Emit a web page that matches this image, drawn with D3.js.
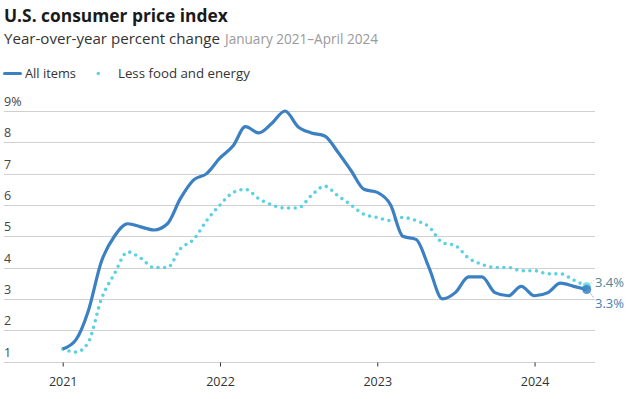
<!DOCTYPE html>
<html><head><meta charset="utf-8">
<script src="https://cdn.jsdelivr.net/npm/d3@7"></script>
<style>
html,body{margin:0;padding:0;background:#fff;}
svg{display:block;font-family:"Open Sans",sans-serif;}
</style></head>
<body>
<svg id="c" width="638" height="399"></svg>
<script>
const months = [
 "2021-01","2021-02","2021-03","2021-04","2021-05","2021-06","2021-07","2021-08","2021-09","2021-10","2021-11","2021-12",
 "2022-01","2022-02","2022-03","2022-04","2022-05","2022-06","2022-07","2022-08","2022-09","2022-10","2022-11","2022-12",
 "2023-01","2023-02","2023-03","2023-04","2023-05","2023-06","2023-07","2023-08","2023-09","2023-10","2023-11","2023-12",
 "2024-01","2024-02","2024-03","2024-04","2024-05"];
const allItems = [
 1.4,1.7,2.6,4.2,5.0,5.4,5.3,5.2,5.4,6.2,6.8,7.0,
 7.5,7.9,8.5,8.3,8.6,9.0,8.5,8.3,8.2,7.7,7.1,6.5,
 6.4,6.0,5.0,4.9,4.0,3.0,3.2,3.7,3.7,3.2,3.1,3.4,
 3.1,3.2,3.5,3.4,3.3];
const core = [
 1.4,1.3,1.6,3.0,3.8,4.5,4.3,4.0,4.0,4.6,4.9,5.5,
 6.0,6.4,6.5,6.2,6.0,5.9,5.9,6.3,6.6,6.3,6.0,5.7,
 5.6,5.5,5.6,5.5,5.3,4.8,4.7,4.3,4.1,4.0,4.0,3.9,
 3.9,3.8,3.8,3.6,3.4];
const yTicks = [1,2,3,4,5,6,7,8,9];
const xTicks = ["2021","2022","2023","2024"];
const seriesNames = ["All items","Less food and energy"];
const title = "U.S. consumer price index";
const subtitle = "Year-over-year percent change";
const dateRange = "January 2021\u2013April 2024";

const blue = "#3b80c2", cyan = "#5bd2e2";
const parse = d3.utcParse("%Y-%m");
const dates = months.map(parse);

const svg = d3.select("#c");
const x = d3.scaleUtc().domain([dates[0], dates[dates.length-1]]).range([62.7, 586.7]);
const y = d3.scaleLinear().domain([1,9]).range([361.5, 111]);

// fit a text element's font size to a target width
function fit(sel, target){
  const fs = +sel.attr("font-size");
  const w = sel.node().getComputedTextLength();
  sel.attr("font-size", (fs*target/w).toFixed(2));
  return sel;
}

// titles
fit(svg.append("text").attr("x",4).attr("y",22).attr("font-size",18).attr("font-weight",700)
  .attr("fill","#1a1a1a").text(title), 224);
fit(svg.append("text").attr("x",4).attr("y",44).attr("font-size",15).attr("fill","#333").text(subtitle), 216);
fit(svg.append("text").attr("x",225).attr("y",44).attr("font-size",13).attr("fill","#9a9a9a").text(dateRange), 153);

// legend
const lg = svg.append("g");
lg.append("line").attr("x1",4.5).attr("x2",20.5).attr("y1",73.5).attr("y2",73.5)
  .attr("stroke",blue).attr("stroke-width",3).attr("stroke-linecap","round");
fit(lg.append("text").attr("x",25).attr("y",78).attr("font-size",13.5).attr("fill","#333").text(seriesNames[0]), 51);
lg.append("line").attr("x1",98.3).attr("x2",105.3).attr("y1",73.5).attr("y2",73.5)
  .attr("stroke",cyan).attr("stroke-width",3.4).attr("stroke-linecap","round").attr("stroke-dasharray","0,7");
fit(lg.append("text").attr("x",118).attr("y",78).attr("font-size",13.5).attr("fill","#333").text(seriesNames[1]), 132);

// gridlines and y labels
const grid = svg.append("g");
grid.selectAll("line").data(yTicks).join("line")
  .attr("x1",4).attr("x2",595).attr("y1",d=>Math.round(y(d))+0.5).attr("y2",d=>Math.round(y(d))+0.5)
  .attr("stroke","#d0d0d0").attr("stroke-width",1);
grid.selectAll("text").data(yTicks).join("text")
  .attr("x",4).attr("y",d=>y(d)-5).attr("font-size",12.5).attr("fill","#444")
  .text(d=> d===9 ? d+"%" : d);

// x axis
const xa = svg.append("g").attr("transform",`translate(0,${Math.round(y(1))+0.5})`)
  .call(d3.axisBottom(x).tickValues(xTicks.map(t=>d3.utcParse("%Y")(t))).tickFormat(d3.utcFormat("%Y")).tickSize(4).tickPadding(11));
xa.select(".domain").remove();
xa.selectAll(".tick line").attr("stroke","#333");
xa.selectAll(".tick text").attr("font-size",12.5).attr("fill","#333").attr("font-family","'Open Sans', sans-serif");

// lines
const line = d3.line().x((d,i)=>x(dates[i])).y(d=>y(d)).curve(d3.curveMonotoneX);
svg.append("path").datum(core).attr("d",line).attr("fill","none")
  .attr("stroke",cyan).attr("stroke-width",3.6).attr("stroke-linecap","round").attr("stroke-dasharray","0,6.6");
svg.append("path").datum(allItems).attr("d",line).attr("fill","none")
  .attr("stroke",blue).attr("stroke-width",3.2).attr("stroke-linejoin","round");

// end markers
const li = dates.length-1;
const ex = x(dates[li]);
svg.append("circle").attr("cx",ex).attr("cy",y(core[li])).attr("r",4).attr("fill",cyan).attr("opacity",0.8);
svg.append("circle").attr("cx",ex).attr("cy",y(allItems[li])).attr("r",4.5).attr("fill",blue).attr("opacity",0.85);
svg.append("line").attr("x1",ex+3).attr("y1",y(core[li])-2).attr("x2",ex+7).attr("y2",y(core[li])-6)
  .attr("stroke",cyan).attr("stroke-width",1).attr("stroke-dasharray","1,1.5");
svg.append("line").attr("x1",ex+3).attr("y1",y(allItems[li])+3).attr("x2",ex+7).attr("y2",y(allItems[li])+8)
  .attr("stroke",blue).attr("stroke-width",1).attr("stroke-dasharray","1,1.5");
svg.append("text").attr("x",595).attr("y",287).attr("font-size",13).attr("fill","#4f8595").text(core[li].toFixed(1)+"%");
svg.append("text").attr("x",595).attr("y",308).attr("font-size",13).attr("fill","#4a80b6").text(allItems[li].toFixed(1)+"%");
</script>
</body></html>
